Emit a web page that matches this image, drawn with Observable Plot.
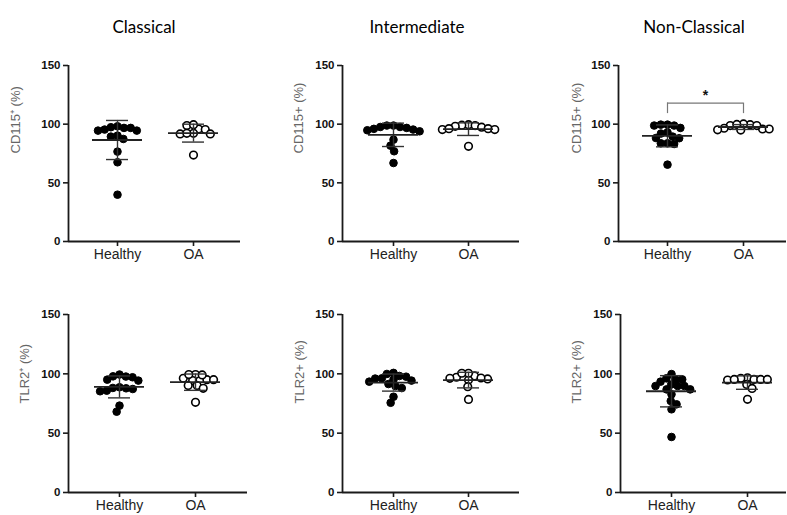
<!DOCTYPE html>
<html><head><meta charset="utf-8">
<script src="https://cdn.jsdelivr.net/npm/d3@7"></script>
<script src="https://cdn.jsdelivr.net/npm/@observablehq/plot@0.6"></script>
<style>
body{margin:0;background:#fff;}
#root{position:relative;width:787px;height:515px;overflow:hidden;background:#fff;}
.title{position:absolute;top:16px;font-family:Lato,"Open Sans",sans-serif;font-size:17px;color:#000;transform:translateX(-50%);white-space:nowrap;}
.panel{position:absolute;}
.panel svg, .panel svg text{font-family:"Liberation Sans",Arial,sans-serif !important;}
</style></head><body><div id="root"></div>
<script>
// ---------- data ----------
const groups = ["Healthy", "OA"];
const panelTitles = ["Classical", "Intermediate", "Non-Classical"];
const yLabels = ["CD115⁺ (%)", "CD115+ (%)", "CD115+ (%)", "TLR2⁺ (%)", "TLR2+ (%)", "TLR2+ (%)"];
const yTicks = [0, 50, 100, 150];

const cd115ClassicalHealthy = [94.5, 97.4, 96.8, 94.5, 95.4, 96.8, 98.2, 89.4, 90.2, 87.4, 76.6, 67.5, 39.9];
const cd115ClassicalOA = [95.9, 91.7, 95.4, 98.8, 99.6, 92.2, 92.2, 91.7, 73.7];
const cd115IntermediateHealthy = [97.6, 97.6, 98.8, 98.8, 93.9, 94.8, 95.4, 96.8, 96.0, 86.8, 81.7, 76.9, 66.9];
const cd115IntermediateOA = [99.6, 98.8, 99.1, 97.4, 95.4, 98.2, 96.2, 96.2, 95.4, 81.1];
const cd115NonClassicalHealthy = [98.8, 99.6, 99.6, 96.8, 98.8, 89.4, 93.0, 92.0, 88.0, 83.7, 83.1, 83.7, 88.2, 65.5];
const cd115NonClassicalOA = [95.9, 98.8, 99.6, 100.2, 96.5, 99.8, 95.0, 98.8, 95.9, 95.2];
const tlr2ClassicalHealthy = [97.7, 95.1, 94.3, 97.1, 97.9, 99.4, 87.2, 88.7, 85.3, 85.8, 87.8, 88.1, 73.2, 68.1];
const tlr2ClassicalOA = [99.4, 94.3, 95.1, 96.2, 99.1, 95.1, 99.4, 90.1, 90.1, 87.8, 76.0];
const tlr2IntermediateHealthy = [94.3, 96.2, 98.2, 99.9, 100.8, 96.0, 91.4, 93.4, 89.7, 95.1, 97.6, 80.7, 75.6, 88.0];
const tlr2IntermediateOA = [98.2, 97.1, 96.2, 94.8, 95.7, 96.5, 100.5, 100.5, 89.2, 78.4];
const tlr2NonClassicalHealthy = [96.2, 99.8, 95.3, 95.3, 93.4, 89.7, 89.7, 91.0, 89.7, 86.9, 86.9, 82.7, 77.1, 74.3, 70.1, 46.8];
const tlr2NonClassicalOA = [94.8, 96.7, 95.3, 95.3, 96.2, 95.3, 95.3, 91.1, 87.7, 78.5];

// significance annotation (panel index, label, bracket level, drop level)
const sigPanel = 2, sigLabel = "*", sigBracket = 118, sigDrop = 109;

const panelData = [
  [cd115ClassicalHealthy, cd115ClassicalOA],
  [cd115IntermediateHealthy, cd115IntermediateOA],
  [cd115NonClassicalHealthy, cd115NonClassicalOA],
  [tlr2ClassicalHealthy, tlr2ClassicalOA],
  [tlr2IntermediateHealthy, tlr2IntermediateOA],
  [tlr2NonClassicalHealthy, tlr2NonClassicalOA]
];

// ---------- layout ----------
const layout = [
  {left: 0,   top: 50,  width: 262, ml: 68, mr: 22, mb: 29, hx: 117, ox: 193, lab: 53},
  {left: 262, top: 50,  width: 262, ml: 80, mr: 5,  mb: 29, hx: 131, ox: 206, lab: 44},
  {left: 524, top: 50,  width: 263, ml: 94, mr: 1,  mb: 29, hx: 143, ox: 219, lab: 42},
  {left: 0,   top: 299, width: 262, ml: 68, mr: 15, mb: 27, hx: 119, ox: 195, lab: 44},
  {left: 262, top: 299, width: 262, ml: 80, mr: 5,  mb: 27, hx: 131, ox: 206, lab: 43},
  {left: 524, top: 299, width: 263, ml: 96, mr: 1,  mb: 27, hx: 147, ox: 223, lab: 44}
];
const titleX = [144, 417, 694];
const H = 220, MT = 15, R = 3.8;
const FONT = "Liberation Sans";

const root = document.getElementById("root");
panelTitles.forEach((t, i) => {
  const d = document.createElement("div");
  d.className = "title"; d.textContent = t; d.style.left = titleX[i] + "px";
  root.appendChild(d);
});

function swarm(values, pxPerUnitY, minDist) {
  const idx = values.map((v, i) => i).sort((a, b) => values[b] - values[a]);
  const placed = [];
  const off = new Array(values.length).fill(0);
  for (const i of idx) {
    const y = values[i] * pxPerUnitY;
    const cands = [0];
    for (const p of placed) {
      const dy = Math.abs(p.y - y);
      if (dy < minDist) {
        const dx = Math.sqrt(minDist * minDist - dy * dy);
        cands.push(p.x + dx, p.x - dx);
      }
    }
    cands.sort((a, b) => Math.abs(a) - Math.abs(b) || a - b);
    let chosen = 0;
    for (const c of cands) {
      if (placed.every(p => (p.x - c) ** 2 + (p.y - y) ** 2 >= minDist * minDist - 0.01)) { chosen = c; break; }
    }
    placed.push({x: chosen, y});
    off[i] = chosen;
  }
  return off;
}

layout.forEach((L, k) => {
  const step = L.ox - L.hx;
  const lo = -(L.hx - L.ml) / step;
  const hi = 1 + (L.width - L.mr - L.ox) / step;
  const plotH = H - MT - L.mb;
  const pyu = plotH / 150;
  const pts = [[], []];
  const stats = [];
  panelData[k].forEach((vals, g) => {
    const off = swarm(vals, pyu, 2 * R * 0.88);
    vals.forEach((v, i) => pts[g].push({x: g + off[i] / step, v}));
    const m = d3.mean(vals), s = d3.deviation(vals);
    stats.push({g, mean: m, lo: m - s, hi: m + s});
  });
  const capHalf = 11 / step, meanHalf = 25 / step;
  const ink = "#1a1a1a";
  const marks = [
    Plot.ruleY([0], {stroke: ink, strokeWidth: 1.8}),
    Plot.ruleX([lo], {y1: 0, y2: 150, stroke: ink, strokeWidth: 1.8}),
    Plot.axisY(yTicks, {tickSize: 5, tickPadding: 3, fontWeight: "bold", fontSize: 11.5, fontFamily: FONT, label: null, stroke: ink, strokeWidth: 1.6}),
    Plot.axisX([0, 1], {tickFormat: i => groups[i], tickSize: 5, tickPadding: 3, fontSize: 14, fontFamily: FONT, label: null, stroke: ink, strokeWidth: 1.6, fill: "#222"}),
    Plot.text([yLabels[k]], {text: d => d, frameAnchor: "left", dx: -L.lab, rotate: -90, fill: "#666", fontSize: 13, fontFamily: FONT}),
    Plot.dot(pts[0], {x: "x", y: "v", r: R, fill: "#000", stroke: "#000", strokeWidth: 1}),
    Plot.dot(pts[1], {x: "x", y: "v", r: R, fill: "#fff", stroke: "#000", strokeWidth: 1.6}),
    Plot.ruleX(stats, {x: "g", y1: "lo", y2: "hi", stroke: "#333", strokeWidth: 1.4}),
    Plot.ruleY(stats, {y: "hi", x1: d => d.g - capHalf, x2: d => d.g + capHalf, stroke: "#333", strokeWidth: 1.4}),
    Plot.ruleY(stats, {y: "lo", x1: d => d.g - capHalf, x2: d => d.g + capHalf, stroke: "#333", strokeWidth: 1.4}),
    Plot.ruleY(stats, {y: "mean", x1: d => d.g - meanHalf, x2: d => d.g + meanHalf, stroke: "#222", strokeWidth: 1.8})
  ];
  if (k === sigPanel) {
    marks.push(
      Plot.ruleY([sigBracket], {x1: 0, x2: 1, stroke: "#777", strokeWidth: 1.2}),
      Plot.ruleX([0, 1], {y1: sigDrop, y2: sigBracket, stroke: "#777", strokeWidth: 1.2}),
      Plot.text([sigLabel], {x: 0.5, y: sigBracket + 7, text: d => d, fontSize: 14, fontWeight: "bold", fontFamily: FONT, fill: "#111", dy: 1})
    );
  }
  const svg = Plot.plot({
    width: L.width, height: H,
    marginLeft: L.ml, marginRight: L.mr, marginTop: MT, marginBottom: L.mb,
    style: {fontFamily: FONT, background: "transparent", color: "#111", overflow: "visible"},
    x: {type: "linear", domain: [lo, hi]},
    y: {domain: [0, 150]},
    marks
  });
  const wrap = document.createElement("div");
  wrap.className = "panel";
  wrap.style.left = L.left + "px"; wrap.style.top = L.top + "px";
  wrap.appendChild(svg);
  root.appendChild(wrap);
});
</script>
</body></html>
